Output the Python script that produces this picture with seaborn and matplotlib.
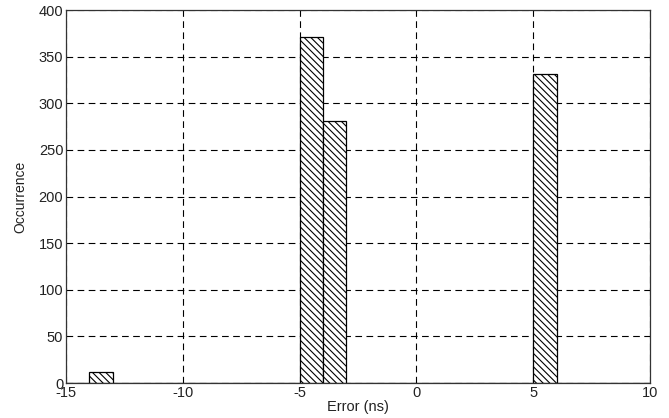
import numpy as np
import pandas as pd
import matplotlib
matplotlib.use('Agg')
import matplotlib.pyplot as plt
import seaborn as sns

# histogram data (1 ns bins)
bin_centers = [-13.5, -4.5, -3.5, 5.5]
counts = [12, 371, 281, 331]
bin_edges = list(range(-15, 11))

x_ticks = [-15, -10, -5, 0, 5, 10]
y_ticks = [0, 50, 100, 150, 200, 250, 300, 350, 400]

df = pd.DataFrame({'error': bin_centers, 'count': counts})

sns.set_style('white')
plt.rcParams['font.family'] = ['Liberation Sans', 'DejaVu Sans']
plt.rcParams['axes.unicode_minus'] = False
plt.rcParams['hatch.linewidth'] = 0.8
plt.rcParams['hatch.color'] = 'black'

fig = plt.figure(figsize=(6.69, 4.18), dpi=100)
ax = fig.add_axes([0.0987, 0.0837, 0.8729, 0.8923])

sns.histplot(data=df, x='error', weights='count', bins=bin_edges, ax=ax,
             color='white', edgecolor='black', linewidth=0.9, alpha=1)
for p in ax.patches:
    p.set_hatch('\\\\\\\\\\')
    p.set_facecolor('white')

ax.set_xlim(-15, 10)
ax.set_ylim(0, 400)
ax.set_xticks(x_ticks)
ax.set_yticks(y_ticks)
ax.grid(True, color='black', linestyle=(0, (6, 4)), linewidth=0.8)
ax.set_axisbelow(True)
for s in ax.spines.values():
    s.set_color('#333333')
    s.set_linewidth(0.9)
ax.tick_params(length=0, labelsize=10.5, pad=2, colors='#222222')
ax.set_xlabel('Error (ns)', fontsize=10.5, labelpad=0, color='#222222')
ax.set_ylabel('Occurrence', fontsize=10, labelpad=8, color='#222222')

fig.savefig('out.png', dpi=100)
